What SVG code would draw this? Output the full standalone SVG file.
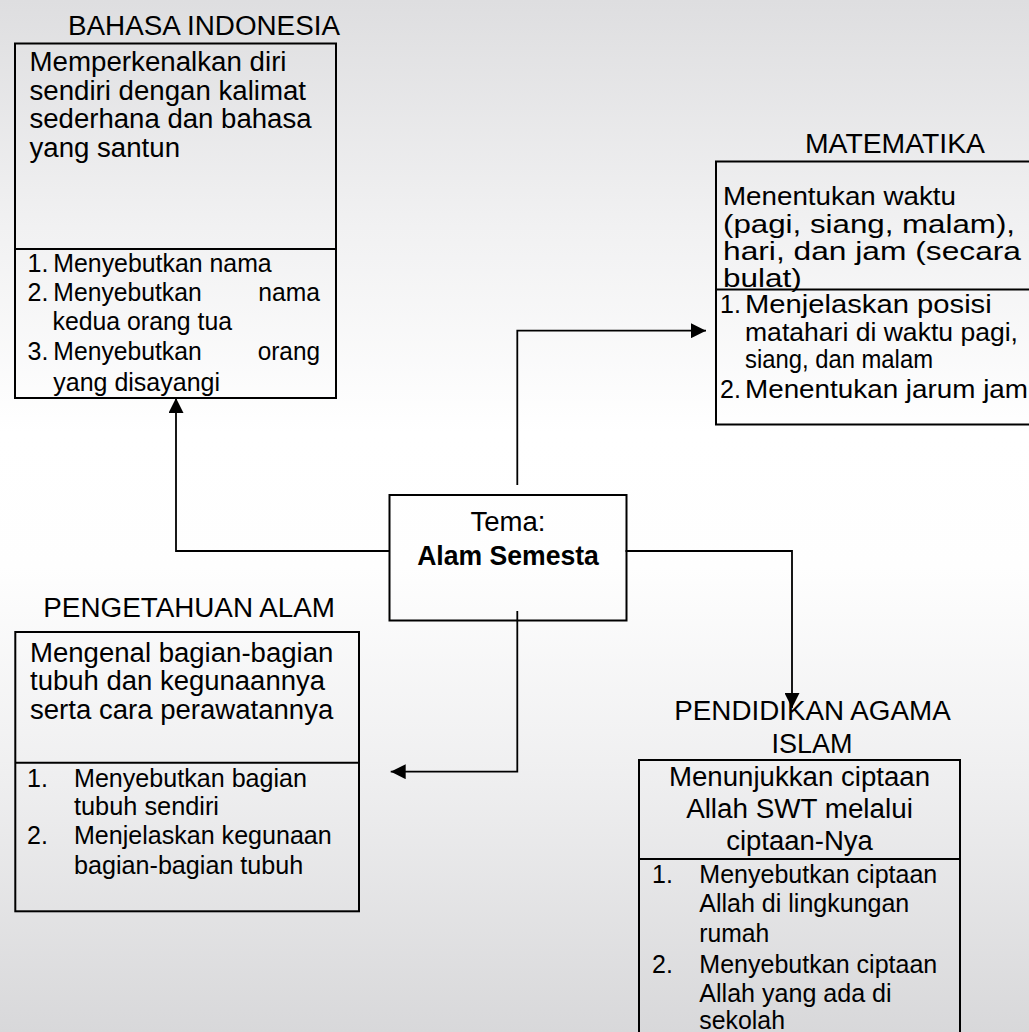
<svg xmlns="http://www.w3.org/2000/svg" width="1029" height="1032" viewBox="0 0 1029 1032">
<defs>
<linearGradient id="bg" x1="0" y1="0" x2="0" y2="1">
<stop offset="0" stop-color="#dedee0"/>
<stop offset="0.22" stop-color="#f1f1f2"/>
<stop offset="0.42" stop-color="#ffffff"/>
<stop offset="0.55" stop-color="#fefefe"/>
<stop offset="0.75" stop-color="#efeff0"/>
<stop offset="1" stop-color="#d8d8da"/>
</linearGradient>
<marker id="ah" markerUnits="userSpaceOnUse" markerWidth="15" markerHeight="15" viewBox="0 0 15 15" refX="15" refY="7.5" orient="auto">
<path d="M0,0 L15,7.5 L0,15 z" fill="#000"/>
</marker>
</defs>
<style>
text{font-family:"Liberation Sans",Arial,sans-serif;fill:#000;}
.h{font-size:27px;}
.m{font-size:27px;}
.mt{font-size:25px;}
.l{font-size:25px;}
.c{text-anchor:middle;}
.b{font-weight:bold;}
.box{fill:none;stroke:#000;stroke-width:2;}
.con{fill:none;stroke:#000;stroke-width:1.8;}
</style>
<rect x="0" y="0" width="1029" height="1032" fill="url(#bg)"/>

<g id="bahasa-indonesia">
<text class="h" x="68" y="35" textLength="272" lengthAdjust="spacingAndGlyphs">BAHASA INDONESIA</text>
<rect class="box" x="15" y="43.5" width="321" height="354.5"/>
<line class="box" x1="15" y1="249" x2="336" y2="249"/>
<text class="m" x="29.5" y="71" textLength="257" lengthAdjust="spacingAndGlyphs">Memperkenalkan diri</text>
<text class="m" x="29.5" y="99.5" textLength="276.5" lengthAdjust="spacingAndGlyphs">sendiri dengan kalimat</text>
<text class="m" x="29.5" y="128" textLength="282" lengthAdjust="spacingAndGlyphs">sederhana dan bahasa</text>
<text class="m" x="29.5" y="156.5" textLength="150.5" lengthAdjust="spacingAndGlyphs">yang santun</text>
<text class="l" x="27.5" y="271.5">1.</text>
<text class="l" x="53.3" y="271.5" textLength="218.4" lengthAdjust="spacingAndGlyphs">Menyebutkan nama</text>
<text class="l" x="27.5" y="301">2.</text>
<text class="l" x="53.3" y="301" textLength="148.4" lengthAdjust="spacingAndGlyphs">Menyebutkan</text>
<text class="l" x="258.3" y="301" textLength="61.7" lengthAdjust="spacingAndGlyphs">nama</text>
<text class="l" x="52.5" y="330" textLength="179.5" lengthAdjust="spacingAndGlyphs">kedua orang tua</text>
<text class="l" x="27.5" y="360">3.</text>
<text class="l" x="53.3" y="360" textLength="148.4" lengthAdjust="spacingAndGlyphs">Menyebutkan</text>
<text class="l" x="257.7" y="360" textLength="62.3" lengthAdjust="spacingAndGlyphs">orang</text>
<text class="l" x="53.3" y="390.5" textLength="166.7" lengthAdjust="spacingAndGlyphs">yang disayangi</text>
</g>

<g id="matematika">
<text class="h" x="805" y="153.3" textLength="180" lengthAdjust="spacingAndGlyphs">MATEMATIKA</text>
<rect class="box" x="716" y="161.5" width="400" height="263"/>
<line class="box" x1="716" y1="289.5" x2="1029" y2="289.5"/>
<text class="mt" x="723" y="205" textLength="233" lengthAdjust="spacingAndGlyphs">Menentukan waktu</text>
<text class="mt" x="723" y="232.5" textLength="292" lengthAdjust="spacingAndGlyphs">(pagi, siang, malam),</text>
<text class="mt" x="723" y="260" textLength="298" lengthAdjust="spacingAndGlyphs">hari, dan jam (secara</text>
<text class="mt" x="723" y="287" textLength="78.7" lengthAdjust="spacingAndGlyphs">bulat)</text>
<text class="l" x="720" y="313.3">1.</text>
<text class="l" x="745" y="313.3" textLength="246.7" lengthAdjust="spacingAndGlyphs">Menjelaskan posisi</text>
<text class="l" x="745" y="340.7" textLength="273" lengthAdjust="spacingAndGlyphs">matahari di waktu pagi,</text>
<text class="l" x="745" y="368.3" textLength="188" lengthAdjust="spacingAndGlyphs">siang, dan malam</text>
<text class="l" x="720" y="398.3">2.</text>
<text class="l" x="745" y="398.3" textLength="283" lengthAdjust="spacingAndGlyphs">Menentukan jarum jam</text>
</g>

<g id="tema">
<rect class="box" x="389.5" y="495" width="237" height="125.5"/>
<text class="m c" x="508" y="531" textLength="75" lengthAdjust="spacingAndGlyphs">Tema:</text>
<text class="m c b" x="508" y="565" textLength="181.7" lengthAdjust="spacingAndGlyphs">Alam Semesta</text>
</g>

<g id="pengetahuan-alam">
<text class="h" x="43.3" y="616.7" textLength="291.7" lengthAdjust="spacingAndGlyphs">PENGETAHUAN ALAM</text>
<rect class="box" x="15.3" y="632" width="343.7" height="279.3"/>
<line class="box" x1="15.3" y1="762.7" x2="359" y2="762.7"/>
<text class="m" x="30" y="661.7" textLength="303.3" lengthAdjust="spacingAndGlyphs">Mengenal bagian-bagian</text>
<text class="m" x="30" y="690.3" textLength="295" lengthAdjust="spacingAndGlyphs">tubuh dan kegunaannya</text>
<text class="m" x="30" y="718.8" textLength="303.3" lengthAdjust="spacingAndGlyphs">serta cara perawatannya</text>
<text class="l" x="27" y="786.5">1.</text>
<text class="l" x="74" y="786.5" textLength="233" lengthAdjust="spacingAndGlyphs">Menyebutkan bagian</text>
<text class="l" x="74" y="815" textLength="145" lengthAdjust="spacingAndGlyphs">tubuh sendiri</text>
<text class="l" x="27" y="844">2.</text>
<text class="l" x="74" y="844" textLength="257.7" lengthAdjust="spacingAndGlyphs">Menjelaskan kegunaan</text>
<text class="l" x="74" y="874" textLength="229.3" lengthAdjust="spacingAndGlyphs">bagian-bagian tubuh</text>
</g>

<g id="pendidikan-agama-islam">
<text class="h c" x="812.5" y="720" textLength="276.4" lengthAdjust="spacingAndGlyphs">PENDIDIKAN AGAMA</text>
<text class="h c" x="812" y="752.7">ISLAM</text>
<rect class="box" x="639" y="760" width="321" height="300"/>
<line class="box" x1="639" y1="859" x2="960" y2="859"/>
<text class="m c" x="799.5" y="786" textLength="261" lengthAdjust="spacingAndGlyphs">Menunjukkan ciptaan</text>
<text class="m c" x="799.5" y="818.3" textLength="226.7" lengthAdjust="spacingAndGlyphs">Allah SWT melalui</text>
<text class="m c" x="799.5" y="850" textLength="146.7" lengthAdjust="spacingAndGlyphs">ciptaan-Nya</text>
<text class="l" x="652" y="882.7">1.</text>
<text class="l" x="699.3" y="882.7" textLength="238" lengthAdjust="spacingAndGlyphs">Menyebutkan ciptaan</text>
<text class="l" x="699.3" y="911.7" textLength="210" lengthAdjust="spacingAndGlyphs">Allah di lingkungan</text>
<text class="l" x="699.3" y="941.7" textLength="70" lengthAdjust="spacingAndGlyphs">rumah</text>
<text class="l" x="652" y="972.7">2.</text>
<text class="l" x="699.3" y="972.7" textLength="238" lengthAdjust="spacingAndGlyphs">Menyebutkan ciptaan</text>
<text class="l" x="699.3" y="1001.7" textLength="192.3" lengthAdjust="spacingAndGlyphs">Allah yang ada di</text>
<text class="l" x="699.3" y="1029" textLength="85.7" lengthAdjust="spacingAndGlyphs">sekolah</text>
</g>

<g id="connectors">
<path class="con" d="M389.5,551 H176 V398" marker-end="url(#ah)"/>
<path class="con" d="M517.3,485 V330.7 H706" marker-end="url(#ah)"/>
<path class="con" d="M517.3,611 V771.7 H390.7" marker-end="url(#ah)"/>
<path class="con" d="M625.5,551 H792 V708" marker-end="url(#ah)"/>
</g>
</svg>
